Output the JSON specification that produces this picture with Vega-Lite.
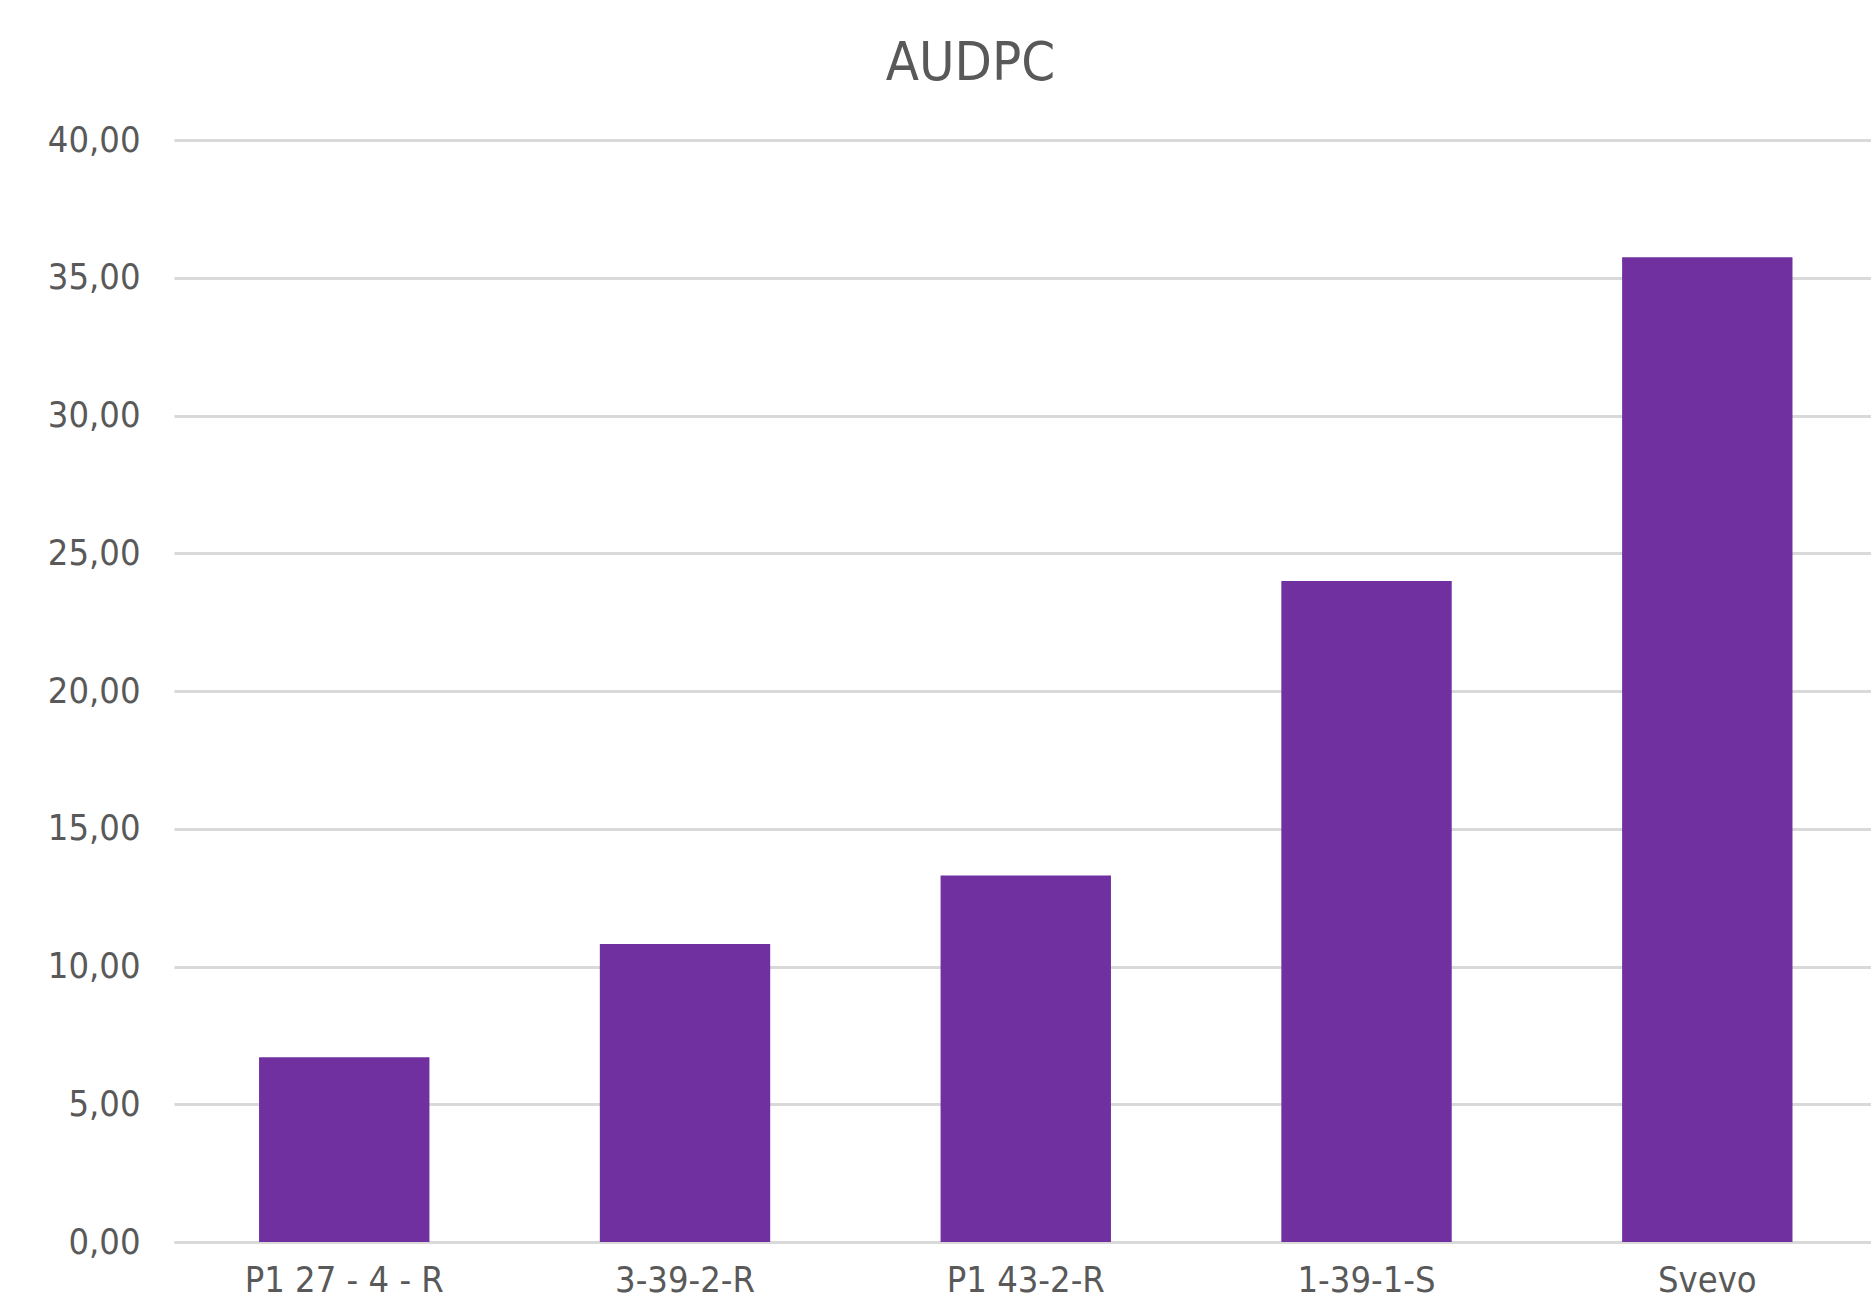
{
  "$schema": "https://vega.github.io/schema/vega-lite/v6.json",
  "autosize": "none",
  "width": 1697,
  "height": 1102,
  "padding": {"left": 174, "top": 140, "right": 0, "bottom": 58},
  "background": "white",
  "title": {
    "text": "AUDPC",
    "font": "DejaVu Sans Condensed",
    "fontSize": 54,
    "fontWeight": "normal",
    "color": "#595959",
    "anchor": "middle",
    "baseline": "alphabetic",
    "offset": -12,
    "dx": -52
  },
  "data": {
    "values": [
      {"genotype": "P1 27 - 4 - R", "audpc": 6.71},
      {"genotype": "3-39-2-R", "audpc": 10.82},
      {"genotype": "P1 43-2-R", "audpc": 13.3},
      {"genotype": "1-39-1-S", "audpc": 23.99},
      {"genotype": "Svevo", "audpc": 35.74}
    ]
  },
  "mark": {"type": "bar", "color": "#7030A0"},
  "encoding": {
    "x": {
      "field": "genotype",
      "type": "nominal",
      "sort": null,
      "scale": {"paddingInner": 0.5, "paddingOuter": 0.24, "align": 0.52},
      "axis": {
        "title": null,
        "labelAngle": 0,
        "labelFont": "DejaVu Sans Condensed",
        "labelFontSize": 36,
        "labelColor": "#595959",
        "labelPadding": 21,
        "labelLimit": 0,
        "ticks": false,
        "domainColor": "#d9d9d9",
        "domainWidth": 3,
        "grid": false
      }
    },
    "y": {
      "field": "audpc",
      "type": "quantitative",
      "scale": {"domain": [0, 40], "nice": false},
      "axis": {
        "title": null,
        "values": [0, 5, 10, 15, 20, 25, 30, 35, 40],
        "labelExpr": "replace(format(datum.value, '.2f'), '.', ',')",
        "labelFont": "DejaVu Sans Condensed",
        "labelFontSize": 36,
        "labelColor": "#595959",
        "labelPadding": 34,
        "ticks": false,
        "domain": false,
        "grid": true,
        "gridColor": "#d9d9d9",
        "gridWidth": 3
      }
    }
  },
  "config": {"view": {"stroke": null}}
}
